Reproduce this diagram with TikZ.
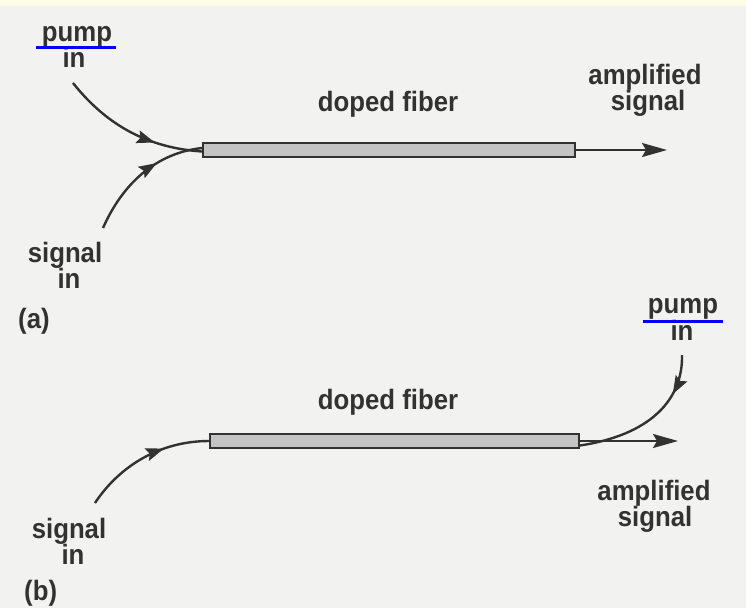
\documentclass[tikz,border=0pt]{standalone}
\usepackage{fontspec}
\newfontfamily\lbl[FakeStretch=0.92]{Liberation Sans}
\usetikzlibrary{arrows.meta,decorations.markings}
\definecolor{bgc}{HTML}{F2F2F0}
\definecolor{topc}{HTML}{FFFDE8}
\definecolor{ink}{HTML}{323232}
\definecolor{fibc}{HTML}{C4C4C4}
\definecolor{ulc}{HTML}{0000FF}
\tikzset{
  txt/.style={inner sep=0pt, anchor=base, text=ink, font=\lbl\bfseries\fontsize{28}{28}\selectfont},
  fiber/.style={draw=ink, line width=1.8pt, fill=fibc, inner sep=0pt, minimum height=14pt},
  wire/.style={draw=ink, line width=2.4pt},
  outarrow/.style={draw=ink, line width=2pt, -{Stealth[length=25pt,width=14pt,inset=4pt]}},
  midarrow/.style={postaction={decorate}, decoration={markings,
     mark=at position #1 with {\arrow[ink]{Stealth[length=18pt,width=13pt,inset=3pt]}}}},
  uline/.style={draw=ulc, line width=3pt}
}
\begin{document}
\begin{tikzpicture}[x=1pt,y=-1pt]
\useasboundingbox (0,0) rectangle (746,608);
\fill[bgc] (0,0) rectangle (746,608);
\fill[topc] (0,0) rectangle (746,6);

% ---------- (a) ----------
\node[fiber, minimum width=372pt] (fa) at (389,150) {};
\node[txt] (pumpa) at (77,41) {pump};
\node[txt] (pina) at (74,67) {in};
\draw[uline] (36,47.5) -- (116,47.5);
\node[txt] (dfa) at (388,111) {doped fiber};
\node[txt] (ampa) at (645,84) {amplified};
\node[txt] (sigouta) at (648,110) {signal};
\node[txt] (siga) at (65,262) {signal};
\node[txt] (sina) at (69,288) {in};
\node[txt, anchor=base west] (la) at (18,328) {(a)};

\coordinate (pa0) at (73,83);
\coordinate (sa0) at (103,228);
\coordinate (oa) at (667,150);
\draw[wire, midarrow=0.68] (pa0) .. controls (108,127) and (150,148) .. ([yshift=-1.5pt]fa.west);
\draw[wire, midarrow=0.64] (sa0) .. controls (122,185) and (155,153) .. ([yshift=2pt]fa.west);
\draw[outarrow] (fa.east) -- (oa);

% ---------- (b) ----------
\node[fiber, minimum width=369pt] (fb) at (394.5,441) {};
\node[txt] (pumpb) at (683,313) {pump};
\node[txt] (pinb) at (682,340) {in};
\draw[uline] (643,321) -- (723,321);
\node[txt] (dfb) at (388,409) {doped fiber};
\node[txt] (ampb) at (654,500) {amplified};
\node[txt] (sigoutb) at (655,526) {signal};
\node[txt] (sigb) at (69,538) {signal};
\node[txt] (sinb) at (73,564) {in};
\node[txt, anchor=base west] (lb) at (24,600) {(b)};

\coordinate (pb0) at (682,355);
\coordinate (sb0) at (95,503);
\coordinate (ob) at (678,441);
\draw[wire, midarrow=0.27] (pb0) .. controls (683,400) and (650,435) .. ([yshift=-4.5pt]fb.east);
\draw[wire, midarrow=0.66] (sb0) .. controls (118,468) and (158,441) .. (fb.west);
\draw[outarrow] (fb.east) -- (ob);
\end{tikzpicture}
\end{document}
